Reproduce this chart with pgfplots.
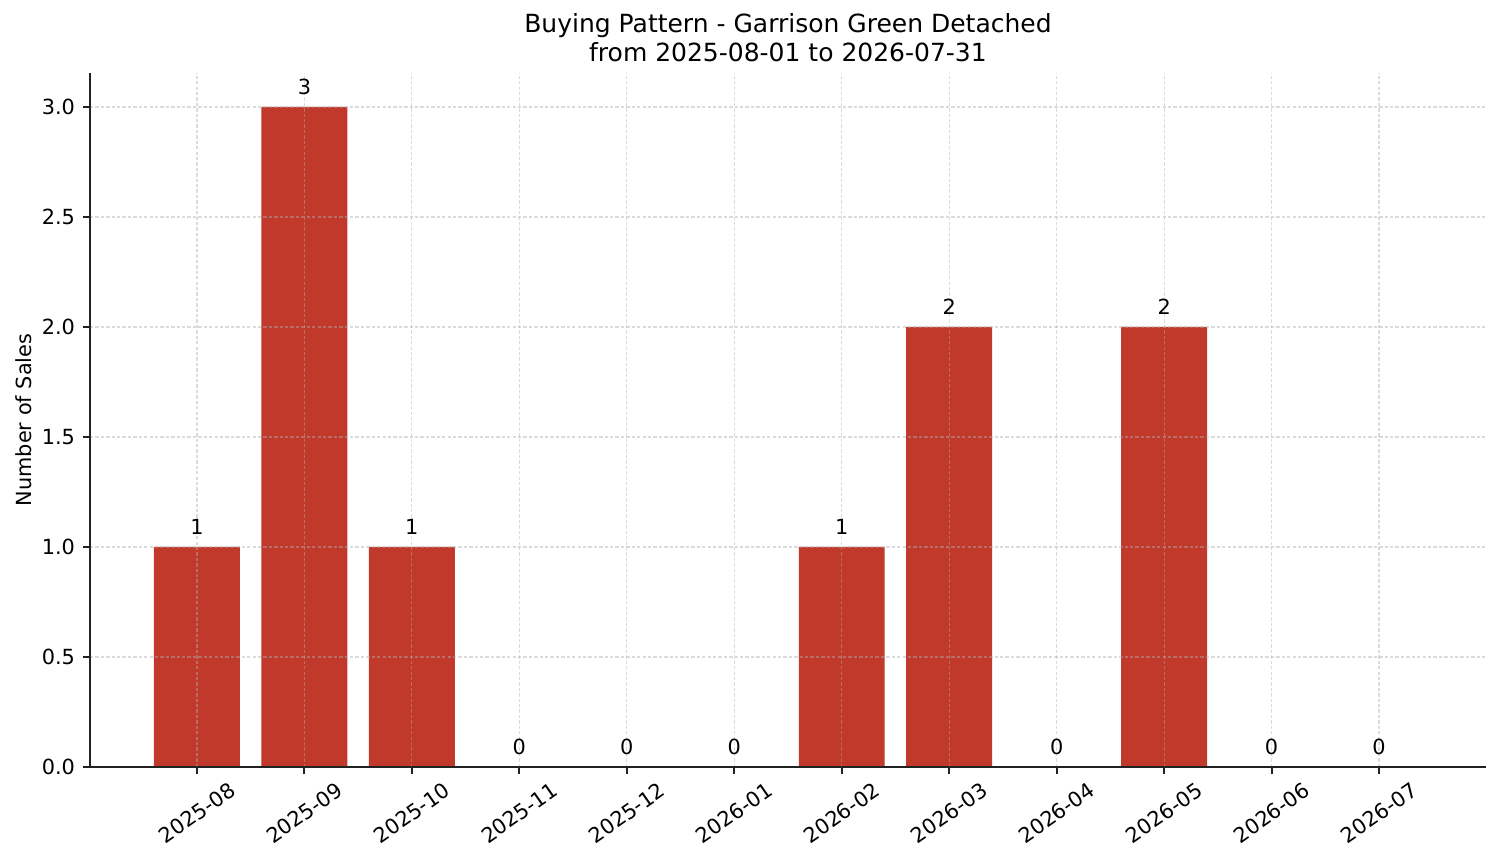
\documentclass[border=0pt]{standalone}
\usepackage{fontspec}
\setmainfont{DejaVu Sans}
\usepackage{pgfplots}
\pgfplotsset{compat=1.18}
\definecolor{barred}{RGB}{192,57,43}
\definecolor{gridgray}{RGB}{176,176,176}
\definecolor{spine}{RGB}{34,34,34}
\begin{document}
\begin{tikzpicture}
\useasboundingbox (-43.2pt,-46.08pt) rectangle (677.28pt,368.16pt);
\begin{axis}[
  at={(0,0)}, anchor=south west,
  scale only axis,
  width=670.08pt, height=333.12pt,
  xmin=-0.995, xmax=11.995,
  ymin=0, ymax=3.1545,
  axis x line*=bottom, axis y line*=left,
  axis line style={-, spine, line width=0.9pt},
  tick align=outside, tick pos=lower,
  major tick length=3.5pt,
  every tick/.style={spine, line width=0.9pt},
  xtick={0,1,2,3,4,5,6,7,8,9,10,11},
  xticklabels={2025-08,2025-09,2025-10,2025-11,2025-12,2026-01,2026-02,2026-03,2026-04,2026-05,2026-06,2026-07},
  ytick={0,0.5,1,1.5,2,2.5,3},
  yticklabels={0.0,0.5,1.0,1.5,2.0,2.5,3.0},
  ticklabel style={font=\fontsize{10}{12}\selectfont},
  xticklabel style={anchor=center, inner sep=0pt, yshift=-18.5pt, rotate=35},
  yticklabel style={inner sep=0pt, xshift=-3.5pt},
  grid=major,
  major grid style={gridgray, opacity=0.45, line width=0.6pt, dash pattern=on 1.6pt off 1pt},
  axis on top,
  ylabel={Number of Sales},
  ylabel style={at={(axis description cs:0,0.5)}, anchor=center, yshift=31.9pt, font=\fontsize{10}{12}\selectfont},
  title={Buying Pattern - Garrison Green Detached\\from 2025-08-01 to 2026-07-31},
  title style={at={(axis description cs:0.5,1)}, anchor=south, align=center, inner sep=0pt, yshift=-1pt, font=\fontsize{12}{14}\selectfont},
  /pgf/number format/assume math mode=true,
  nodes near coords,
  every node near coord/.append style={anchor=base, inner sep=0pt, yshift=6pt, font=\fontsize{10}{12}\selectfont, black},
]
\addplot[ybar, bar width=0.8, fill=barred, draw=none] coordinates {
(0,1) (1,3) (2,1) (3,0) (4,0) (5,0) (6,1) (7,2) (8,0) (9,2) (10,0) (11,0)
};
\end{axis}
\end{tikzpicture}
\end{document}
